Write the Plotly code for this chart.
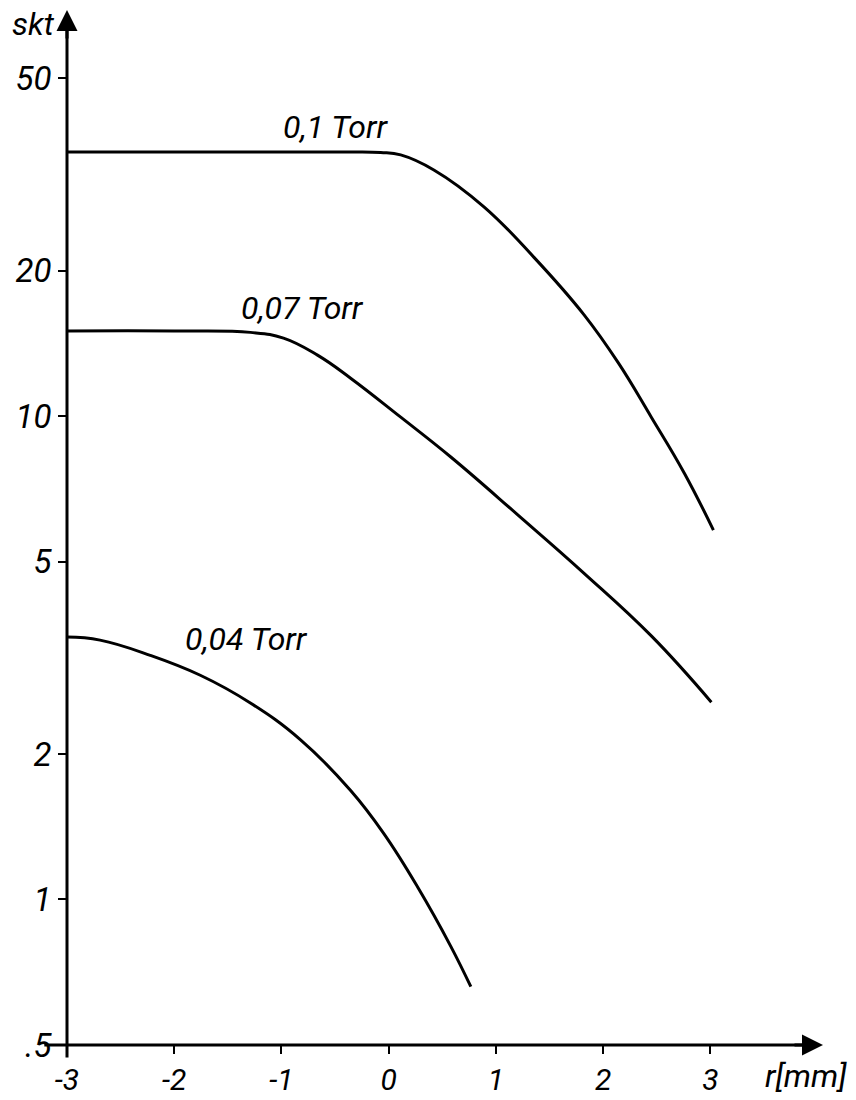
import numpy as np
import plotly.graph_objects as go

# ---- data ----
r_01 = [-3.0, -1.5, -0.355, -0.075, 0.112, 0.421, 0.888, 1.355, 1.822, 2.14, 2.449, 2.757, 3.028]
s_01 = [35.2, 35.2, 35.2, 35.1, 34.7, 32.3, 27.1, 21.3, 16.2, 12.9, 9.95, 7.62, 5.81]

r_007 = [-3.0, -2.0, -1.29, -0.981, -0.664, -0.355, 0.112, 0.579, 1.206, 1.822, 2.449, 3.009]
s_007 = [15.0, 15.0, 14.9, 14.5, 13.37, 11.98, 9.95, 8.23, 6.24, 4.73, 3.51, 2.56]

r_004 = [-3.0, -2.692, -2.224, -1.757, -1.29, -0.822, -0.355, -0.047, 0.271, 0.579, 0.766]
s_004 = [3.49, 3.44, 3.20, 2.91, 2.55, 2.14, 1.68, 1.37, 1.06, 0.80, 0.66]

series_names = ["0,1 Torr", "0,07 Torr", "0,04 Torr"]

x_tickvals = [-3, -2, -1, 0, 1, 2, 3]
x_ticktext = ["-3", "-2", "-1", "0", "1", "2", "3"]
y_tickvals = [0.5, 1, 2, 5, 10, 20, 50]
y_ticktext = [".5", "1", "2", "5", "10", "20", "50"]

# ---- styling ----
FONT = "Roboto, Liberation Sans, Arial"
X_RANGE = [-3, 4.05]
Y_RANGE = [np.log10(0.5), np.log10(69.2)]
W, H = 856, 1100
ML, MR, MT, MB = 67, 33, 10, 55
pw, ph = W - ML - MR, H - MT - MB


def px2paper(px, py):
    return (px - ML) / pw, (H - MB - py) / ph


fig = go.Figure()
for r, s, n in zip([r_01, r_007, r_004], [s_01, s_007, s_004], series_names):
    fig.add_trace(go.Scatter(x=r, y=s, mode="lines", name=n,
                             line=dict(color="black", width=3, shape="spline", smoothing=1.2),
                             showlegend=False, hoverinfo="skip"))

# curve labels (centre positions in pixels of the page)
label_px = [(335, 127), (302, 308), (246, 639)]
for (lx, ly), n in zip(label_px, series_names):
    ax_, ay_ = px2paper(lx, ly)
    fig.add_annotation(x=ax_, y=ay_, xref="paper", yref="paper", xanchor="center", yanchor="middle",
                       text=n, showarrow=False,
                       font=dict(family=FONT, size=32, color="black", style="italic"))

# axis lines (paper coords) extending slightly past the origin
fig.add_shape(type="line", xref="paper", yref="paper", x0=0, x1=0, y0=-0.012, y1=0.985,
              line=dict(color="black", width=3))
fig.add_shape(type="line", xref="paper", yref="paper", x0=-0.03, x1=0.985, y0=0, y1=0,
              line=dict(color="black", width=3))
# arrow heads
fig.add_annotation(x=0, y=1.0, xref="paper", yref="paper", ax=0, ay=30, axref="pixel", ayref="pixel",
                   text="", showarrow=True, arrowhead=2, arrowsize=1.4, arrowwidth=3, arrowcolor="black")
fig.add_annotation(x=1.0, y=0, xref="paper", yref="paper", ax=-30, ay=0, axref="pixel", ayref="pixel",
                   text="", showarrow=True, arrowhead=2, arrowsize=1.4, arrowwidth=3, arrowcolor="black")

# axis titles
for txt, (tx, ty) in [("skt", (33, 24)), ("r[mm]", (806, 1076))]:
    ax_, ay_ = px2paper(tx, ty)
    fig.add_annotation(x=ax_, y=ay_, xref="paper", yref="paper", xanchor="center", yanchor="middle",
                       text=txt, showarrow=False,
                       font=dict(family=FONT, size=32, color="black", style="italic"))

fig.update_layout(
    width=W, height=H,
    margin=dict(l=ML, r=MR, t=MT, b=MB, autoexpand=False),
    paper_bgcolor="white", plot_bgcolor="white",
    xaxis=dict(range=X_RANGE, tickvals=x_tickvals, ticktext=x_ticktext, automargin=False,
               ticks="outside", ticklen=8, tickwidth=2, tickcolor="black",
               showgrid=False, zeroline=False, showline=False,
               tickfont=dict(family=FONT, size=30, color="black", style="italic")),
    yaxis=dict(type="log", range=Y_RANGE, tickvals=y_tickvals, ticktext=y_ticktext, automargin=False,
               ticks="outside", ticklen=8, tickwidth=2, tickcolor="black",
               showgrid=False, zeroline=False, showline=False,
               tickfont=dict(family=FONT, size=33, color="black", style="italic")),
)

fig.write_html("out.html", config={"displayModeBar": False})

# remove the browser's default body margin so the figure fills the window exactly
with open("out.html", "r", encoding="utf-8") as f:
    html = f.read()
html = html.replace("<body>", '<body style="margin:0;padding:0;overflow:hidden">', 1)
with open("out.html", "w", encoding="utf-8") as f:
    f.write(html)
